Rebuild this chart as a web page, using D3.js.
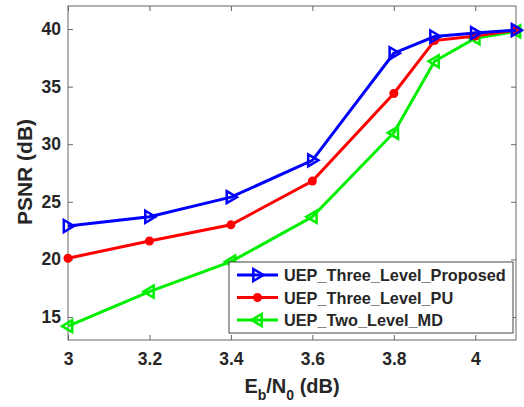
<!DOCTYPE html>
<html>
<head>
<meta charset="utf-8">
<script src="https://cdn.jsdelivr.net/npm/d3@7"></script>
<style>
  body { margin: 0; background: #fff; }
  text { font-family: "Liberation Sans", Arial, sans-serif; font-weight: bold; fill: #262626; }
</style>
</head>
<body>
<svg id="chart" width="524" height="407"></svg>
<script>
// x positions (Eb/N0, dB)
const ebn0 = [3, 3.2, 3.4, 3.6, 3.8, 3.9, 4, 4.1];
// PSNR values
const proposed = [22.9, 23.7, 25.4, 28.6, 37.9, 39.35, 39.65, 39.9];
const threeLevelPU = [20.1, 21.6, 23.0, 26.8, 34.4, 39.0, 39.4, 39.9];
const twoLevelMD = [14.2, 17.2, 19.8, 23.7, 31.0, 37.2, 39.2, 39.8];
const xTicks = [3, 3.2, 3.4, 3.6, 3.8, 4];
const yTicks = [15, 20, 25, 30, 35, 40];
const seriesNames = ["UEP_Three_Level_Proposed", "UEP_Three_Level_PU", "UEP_Two_Level_MD"];

const margin = { top: 6, right: 8, bottom: 67, left: 68 };
const width = 524 - margin.left - margin.right;
const height = 407 - margin.top - margin.bottom;

const svg = d3.select("#chart");
const g = svg.append("g").attr("transform", `translate(${margin.left},${margin.top})`);

const x = d3.scaleLinear().domain([3, 4.1]).range([0, width]);
const y = d3.scaleLinear().domain([13, 42]).range([height, 0]);

const axisColor = "#666";

// bottom axis, ticks pointing inward
const xAxis = g.append("g")
    .attr("transform", `translate(0,${height})`)
    .call(d3.axisBottom(x).tickValues(xTicks).tickSizeInner(-5).tickSizeOuter(0).tickPadding(13)
        .tickFormat(d3.format("")));
xAxis.selectAll("text").style("font-size", "17.5px");

const yAxis = g.append("g")
    .call(d3.axisLeft(y).tickValues(yTicks).tickSizeInner(-5).tickSizeOuter(0).tickPadding(7));
yAxis.selectAll("text").style("font-size", "17.5px");

// top and right ticks
g.append("g").call(d3.axisTop(x).tickValues(xTicks).tickSizeInner(-5).tickSizeOuter(0).tickFormat(""));
g.append("g").attr("transform", `translate(${width},0)`)
    .call(d3.axisRight(y).tickValues(yTicks).tickSizeInner(-5).tickSizeOuter(0).tickFormat(""));

g.selectAll(".domain").remove();
g.selectAll(".tick line").attr("stroke", axisColor);
g.append("rect")
    .attr("width", width).attr("height", height)
    .attr("fill", "none").attr("stroke", axisColor).attr("stroke-width", 1);

// axis labels
g.append("text")
    .attr("transform", "rotate(-90)")
    .attr("x", -(172 - margin.top))
    .attr("y", -36)
    .attr("text-anchor", "middle")
    .style("font-size", "21px")
    .text("PSNR (dB)");

const xl = g.append("text")
    .attr("x", x(3.55))
    .attr("y", height + 53)
    .attr("text-anchor", "middle")
    .style("font-size", "20px");
xl.append("tspan").text("E");
xl.append("tspan").attr("dy", 7).style("font-size", "14px").text("b");
xl.append("tspan").attr("dy", -7).text("/N");
xl.append("tspan").attr("dy", 7).style("font-size", "14px").text("0");
xl.append("tspan").attr("dy", -7).text(" (dB)");

// markers
const triRight = (cx, cy, s) => `M${cx - s * 0.7},${cy - s} L${cx + s},${cy} L${cx - s * 0.7},${cy + s} Z`;
const triLeft = (cx, cy, s) => `M${cx + s * 0.7},${cy - s} L${cx - s},${cy} L${cx + s * 0.7},${cy + s} Z`;

const series = [
    { name: seriesNames[0], values: proposed, color: "#0000ff", marker: "right" },
    { name: seriesNames[1], values: threeLevelPU, color: "#ff0000", marker: "circle" },
    { name: seriesNames[2], values: twoLevelMD, color: "#00ee00", marker: "left" }
];

const line = d3.line().x(d => x(d[0])).y(d => y(d[1]));

function drawMarker(sel, type, cx, cy, color) {
    if (type === "circle") {
        sel.append("circle").attr("cx", cx).attr("cy", cy).attr("r", 4.5).attr("fill", color);
    } else {
        sel.append("path")
            .attr("d", type === "right" ? triRight(cx, cy, 6) : triLeft(cx, cy, 6))
            .attr("fill", "none").attr("stroke", color).attr("stroke-width", 2.5);
    }
}

// draw in reverse so blue sits on top
series.slice().reverse().forEach(s => {
    const pts = ebn0.map((v, i) => [v, s.values[i]]);
    g.append("path").datum(pts)
        .attr("d", line)
        .attr("fill", "none")
        .attr("stroke", s.color)
        .attr("stroke-width", 3);
    const mg = g.append("g");
    pts.forEach(p => drawMarker(mg, s.marker, x(p[0]), y(p[1]), s.color));
});

// legend
const lg = svg.append("g").attr("transform", "translate(229,262)");
lg.append("rect").attr("width", 284).attr("height", 71)
    .attr("fill", "#fff").attr("stroke", "#444").attr("stroke-width", 1);
series.forEach((s, i) => {
    const yy = 13 + i * 22.5;
    lg.append("line").attr("x1", 8).attr("x2", 49).attr("y1", yy).attr("y2", yy)
        .attr("stroke", s.color).attr("stroke-width", 3);
    drawMarker(lg, s.marker, 28.5, yy, s.color);
    lg.append("text").attr("x", 55).attr("y", yy + 6)
        .style("font-size", "16.3px")
        .text(s.name);
});
</script>
</body>
</html>
